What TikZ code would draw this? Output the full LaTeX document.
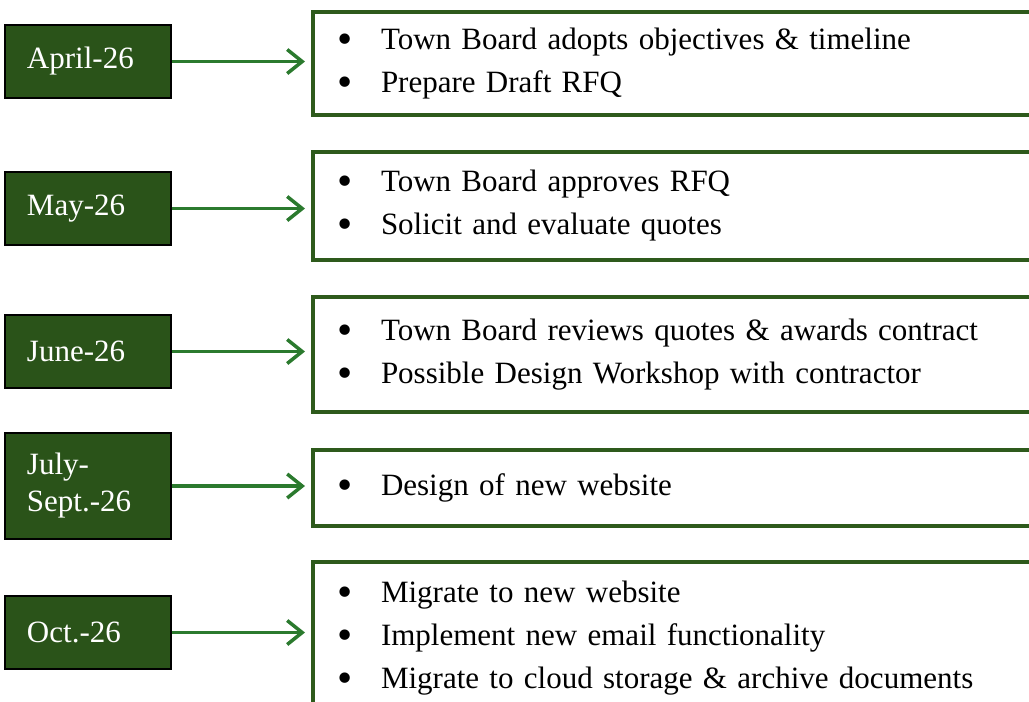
\documentclass[tikz,border=0pt]{standalone}
\usepackage{fontspec}
\setmainfont{Liberation Serif}
\usepackage{tikz}
\usetikzlibrary{arrows.meta, positioning}

\definecolor{boxgreen}{HTML}{2A5319}
\definecolor{framegreen}{HTML}{2E5A1C}
\definecolor{arrowgreen}{HTML}{2B7A2E}

\newcommand{\itm}{\makebox[44pt][l]{\raisebox{-4pt}{\scalebox{1.4}{\textbullet}}}}

\begin{document}
\begin{tikzpicture}[x=1pt,y=-1pt]
\tikzstyle{month} = [rectangle, draw=black, line width=1.2pt, fill=boxgreen, text=white, minimum width=166pt, minimum height=73pt, inner xsep=22pt, text width=122pt, align=left, font=\fontsize{31}{37}\selectfont]
\tikzstyle{tasks} = [rectangle, draw=framegreen, line width=4pt, minimum width=800pt, inner xsep=24pt, text width=752pt, align=left, anchor=north west, font=\fontsize{31}{43}\selectfont]
\tikzstyle{arrow} = [draw=arrowgreen, line width=3.5pt, -{Straight Barb[length=15pt,width=24pt,line width=3.5pt]}, shorten >=6pt]

\useasboundingbox (0,0) rectangle (1029,702);
\clip (0,0) rectangle (1029,702);

% month boxes on the left
\node (april) [month] at (88,61.5) {April-26};
\node (may) [month] at (88,208.5) {May-26};
\node (june) [month] at (88,351.5) {June-26};
\node (july) [month, minimum height=106pt] at (88,486) {July-\\Sept.-26};
\node (oct) [month] at (88,632.5) {Oct.-26};

% task boxes, running off the right edge
\node (plan1) [tasks, minimum height=103pt] at (311,10) {\itm Town Board adopts objectives \& timeline\\\itm Prepare Draft RFQ};
\node (plan2) [tasks, minimum height=108pt] at (311,150) {\itm Town Board approves RFQ\\\itm Solicit and evaluate quotes};
\node (plan3) [tasks, minimum height=115pt] at (311,295) {\itm Town Board reviews quotes \& awards contract\\\itm Possible Design Workshop with contractor};
\node (plan4) [tasks, minimum height=76pt] at (311,448) {\itm Design of new website};
\node (plan5) [tasks, minimum height=152pt] at (311,560) {\itm Migrate to new website\\\itm Implement new email functionality\\\itm Migrate to cloud storage \& archive documents};

\draw [arrow] (april) -- (april -| plan1.west);
\draw [arrow] (may) -- (may -| plan2.west);
\draw [arrow] (june) -- (june -| plan3.west);
\draw [arrow] (july) -- (july -| plan4.west);
\draw [arrow] (oct) -- (oct -| plan5.west);
\end{tikzpicture}
\end{document}
